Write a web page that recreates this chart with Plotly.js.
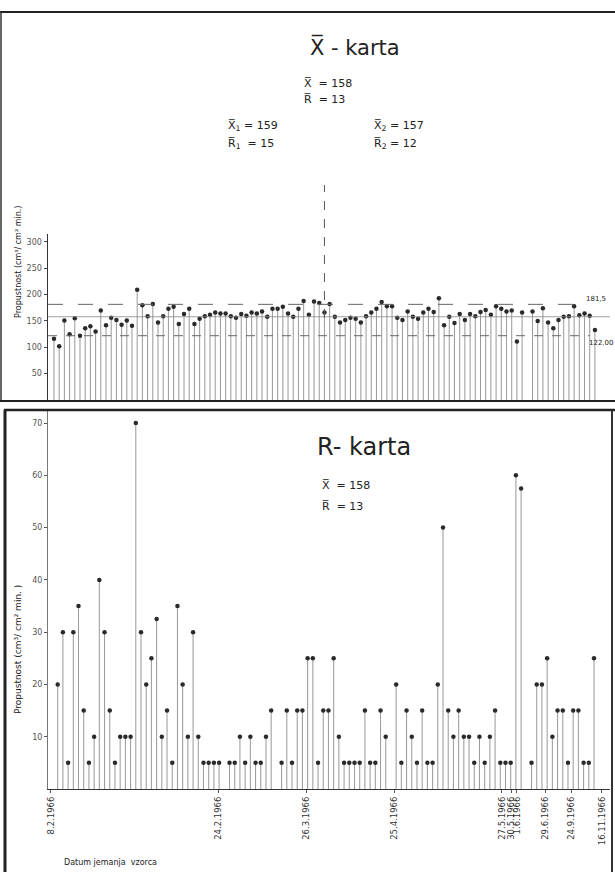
<!DOCTYPE html>
<html><head><meta charset="utf-8">
<script src="https://cdn.plot.ly/plotly-3.0.1.min.js"></script>
<style>html,body{margin:0;padding:0;background:#fff}#chart{width:615px;height:872px}</style>
</head><body><div id="chart"></div>
<script>
// X-karta: sample means (cm3/cm2 min), one per sample slot; null = no sample drawn
const xbarValues = [
  116,102,151,125,155,122,136,140,130,170,
  142,156,152,143,151,141,209,180,159,182,
  147,159,173,177,144,163,173,144,154,159,
  162,166,164,164,159,156,163,160,166,164,
  168,158,173,173,177,164,158,173,188,162,
  187,184,166,182,158,147,152,156,154,147,
  159,166,173,186,178,178,156,152,168,158,
  154,166,173,167,193,142,158,146,163,152,
  163,159,167,171,162,178,173,168,170,111,
  166,null,168,150,174,147,136,152,158,159,
  178,161,164,160,133
];
// R-karta: sample ranges, one per sample slot; null = no sample drawn
const rValues = [
  20,30,5,30,35,15,5,10,40,30,
  15,5,10,10,10,70,30,20,25,32.5,
  10,15,5,35,20,10,30,10,5,5,
  5,5,null,5,5,10,5,10,5,5,
  10,15,null,5,15,5,15,15,25,25,
  5,15,15,25,10,5,5,5,5,15,
  5,5,15,10,null,20,5,15,10,5,
  15,5,5,20,50,15,10,15,10,10,
  5,10,5,10,15,5,5,5,60,57.5,
  null,5,20,20,25,10,15,15,5,15,
  15,5,5,25
];
const controlValues = [181.5, 158, 122];
const controlLabels = ['181,5', '122,00'];
const periodBreakSample = 52;
const dateTickSamples = [-1.3, 30.8, 47.7, 64.7, 85.3, 87.1, 88.2, 93.7, 98.7, 104.5];
const dateTickLabels = ['8.2.1966','24.2.1966','26.3.1966','25.4.1966','27.5.1966','30.5.1966','1.6.1966','29.6.1966','24.9.1966','16.11.1966'];
const xbarTicks = [50,100,150,200,250,300];
const rTicks = [10,20,30,40,50,60,70];

const W = 615, H = 872;
const px = x => x / W, py = y => 1 - y / H;
const xbarIdx = xbarValues.map((_, i) => i);
const rIdx = rValues.map((_, i) => i);
const FONT = 'DejaVu Sans, Liberation Sans, sans-serif';

const traces = [
  {type:'bar', x:xbarIdx, y:xbarValues, width:0.2, marker:{color:'#9c9c9c', line:{width:0}}, xaxis:'x', yaxis:'y', hoverinfo:'skip'},
  {type:'scatter', mode:'markers', x:xbarIdx, y:xbarValues, marker:{size:4.5, color:'#2a2a2a'}, xaxis:'x', yaxis:'y'},
  {type:'bar', x:rIdx, y:rValues, width:0.2, marker:{color:'#9c9c9c', line:{width:0}}, xaxis:'x2', yaxis:'y2', hoverinfo:'skip'},
  {type:'scatter', mode:'markers', x:rIdx, y:rValues, marker:{size:4.5, color:'#2a2a2a'}, xaxis:'x2', yaxis:'y2'}
];

const shapes = [
  // panel frames
  {type:'line', xref:'paper', yref:'paper', x0:0, x1:1, y0:py(12), y1:py(12), line:{color:'#222', width:2}},
  {type:'line', xref:'paper', yref:'paper', x0:px(1), x1:px(1), y0:py(12), y1:py(401), line:{color:'#333', width:1.5}},
  {type:'line', xref:'paper', yref:'paper', x0:0, x1:1, y0:py(401), y1:py(401), line:{color:'#222', width:2}},
  {type:'line', xref:'paper', yref:'paper', x0:px(4), x1:1, y0:py(410), y1:py(410), line:{color:'#222', width:2.5}},
  {type:'line', xref:'paper', yref:'paper', x0:px(5), x1:px(5), y0:py(410), y1:0, line:{color:'#222', width:3}},
  {type:'line', xref:'paper', yref:'paper', x0:px(612), x1:px(612), y0:py(410), y1:0, line:{color:'#333', width:2}},
  // control limits
  {type:'line', xref:'x', yref:'y', x0:-1.15, x1:101.8, y0:controlValues[0], y1:controlValues[0], line:{color:'#666', width:1, dash:'longdash'}},
  {type:'line', xref:'x', yref:'y', x0:-1.15, x1:106.9, y0:controlValues[1], y1:controlValues[1], line:{color:'#888', width:0.8}},
  {type:'line', xref:'x', yref:'y', x0:-1.15, x1:103, y0:controlValues[2], y1:controlValues[2], line:{color:'#666', width:1, dash:'dash'}},
  // period divider
  {type:'line', xref:'x', yref:'paper', x0:periodBreakSample, x1:periodBreakSample, y0:py(318), y1:py(185), line:{color:'#555', width:1, dash:'dash'}}
];

const ann = (text, x, y, size, xanchor, extra) => Object.assign({
  text, x:px(x), y:py(y), xref:'paper', yref:'paper', xanchor:xanchor || 'center', yanchor:'middle',
  showarrow:false, font:{family:FONT, size, color:'#222'}}, extra || {});
const annotations = [
  ann('X\u0305 - karta', 355, 47, 21),
  ann('X\u0305  = 158', 302, 83, 11, 'left'),
  ann('R\u0305  = 13', 302, 100, 11, 'left'),
  ann('X\u0305<sub>1</sub> = 159', 226, 126, 11, 'left'),
  ann('R\u0305<sub>1</sub>  = 15', 226, 144, 11, 'left'),
  ann('X\u0305<sub>2</sub> = 157', 372, 126, 11, 'left'),
  ann('R\u0305<sub>2</sub> = 12', 372, 144, 11, 'left'),
  ann(controlLabels[0], 596, 299, 7),
  ann(controlLabels[1], 601, 343, 7),
  ann('Propustnost (cm\u00b3/ cm\u00b2 min.)', 18, 262, 8, 'center', {textangle:-90}),
  ann('R- karta', 315, 447, 24, 'left'),
  ann('X\u0305  = 158', 320, 485, 11, 'left'),
  ann('R\u0305  = 13', 320, 506, 11, 'left'),
  ann('Propustnost (cm\u00b3/ cm\u00b2 min. )', 18, 650, 9, 'center', {textangle:-90}),
  ann('Datum jemanja  vzorca', 110, 862, 8)
];

const layout = {
  width:W, height:H, margin:{l:0, r:0, t:0, b:0},
  paper_bgcolor:'#fff', plot_bgcolor:'rgba(0,0,0,0)', showlegend:false,
  font:{family:FONT, color:'#222'},
  xaxis:{domain:[px(48), px(610)], range:[-1.15, 106.9], anchor:'y', showline:false, showticklabels:false, ticks:'', showgrid:false, zeroline:false},
  yaxis:{domain:[py(400), py(234)], range:[0, 315], anchor:'x', tickvals:xbarTicks, ticks:'outside', ticklen:3, tickcolor:'#444',
         showline:true, linecolor:'#333', linewidth:1.5, showgrid:false, zeroline:false, tickfont:{family:FONT, size:8, color:'#555'}},
  xaxis2:{domain:[px(48), px(610)], range:[-1.86, 106.07], anchor:'y2', tickvals:dateTickSamples, ticktext:dateTickLabels, tickangle:-90,
          ticks:'outside', ticklen:3, tickcolor:'#555', showline:true, linecolor:'#333', linewidth:1.2, showgrid:false, zeroline:false,
          tickfont:{family:FONT, size:8.5, color:'#333'}},
  yaxis2:{domain:[py(789), py(410)], range:[0, 72.5], anchor:'x2', tickvals:rTicks, ticks:'outside', ticklen:3, tickcolor:'#555',
          showline:true, linecolor:'#777', linewidth:1, showgrid:false, zeroline:false, tickfont:{family:FONT, size:8, color:'#555'}},
  shapes, annotations
};

Plotly.newPlot('chart', traces, layout, {displayModeBar:false, staticPlot:true});
</script>
</body></html>
